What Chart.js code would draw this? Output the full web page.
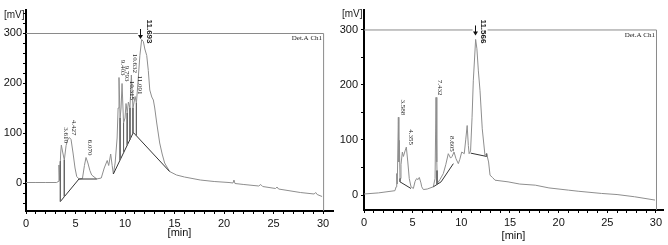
<!DOCTYPE html>
<html>
<head>
<meta charset="utf-8">
<script src="https://cdn.jsdelivr.net/npm/chart.js@4.4.0/dist/chart.umd.min.js"></script>
<style>
  html, body { margin: 0; padding: 0; background: #fff; }
  #wrap { position: relative; width: 668px; height: 245px; }
  canvas { position: absolute; top: 0; }
</style>
</head>
<body>
<div id="wrap">
  <canvas id="left" width="334" height="245" style="left:0"></canvas>
  <canvas id="right" width="333" height="245" style="left:335px"></canvas>
</div>
<script>
// left chromatogram (time in min, signal in mV)
const leftTime = [0, 1, 2, 3.1, 3.25, 3.33, 3.4, 3.5, 3.57, 3.7, 3.87, 4.05, 4.2, 4.38, 4.55, 4.75, 4.95, 5.12, 5.36, 5.7,
  5.9, 6.06, 6.25, 6.45, 6.63, 7.14, 7.6, 7.9, 8.2, 8.35, 8.55, 8.7, 8.82, 9.0, 9.2, 9.3, 9.39, 9.5, 9.6, 9.7,
  9.85, 10.0, 10.1, 10.22, 10.34, 10.5, 10.64, 10.8, 11.02, 11.15, 11.3, 11.5, 11.68, 11.85, 12.0, 12.19, 12.35, 12.5, 12.7, 12.86,
  13.0, 13.2, 13.5, 13.75, 14.0, 14.5, 15.2, 16, 17.6, 19, 20.5, 20.9, 21.0, 21.1, 22, 23.5, 23.7, 23.9, 25.2, 25.35,
  25.5, 27.7, 29.1, 29.25, 29.4, 29.9];
const leftSignal = [1, 1, 1, 1, 3, 36, 5, 60, 76, 62, 46, 75, 86, 91, 87, 60, 30, 13, 8, 9,
  35, 51, 40, 25, 16, 8, 10, 30, 45, 35, 58, 35, 18, 40, 90, 150, 211, 130, 150, 199,
  120, 130, 159, 140, 162, 150, 216, 150, 173, 160, 200, 255, 287, 283, 268, 255, 225, 186, 172, 166,
  150, 120, 80, 58, 40, 23, 16, 12, 6, 3, 1, 0, 6, -1, -3, -6, -3, -7, -11, -8,
  -12, -19, -22, -19, -23, -27];
const leftBaseTime = [[3.47, 5.35, 7.14], [8.82, 10.84, 14.5]];
const leftBaseSignal = [[-37, 8, 8], [18, 101, 23]];
const leftDropTime = [3.47, 3.87, 9.5, 9.85, 10.22, 10.5, 10.8, 11.15];
const leftPeaks = ["3.610", "4.427", "6.070", "9.403", "9.793", "10.315", "10.632", "11.091", "11.693"];

// right chromatogram
const rightTime = [0, 1.5, 3.18, 3.3, 3.36, 3.42, 3.53, 3.58, 3.63, 3.7, 3.8, 3.94, 4.05, 4.22, 4.35, 4.5, 4.65, 4.83, 5.07, 5.25,
  5.41, 5.55, 5.68, 5.85, 5.93, 6.1, 6.5, 7.12, 7.3, 7.4, 7.48, 7.53, 7.8, 8.15, 8.4, 8.66, 8.9, 9.05, 9.25, 9.45,
  9.69, 9.85, 10.04, 10.3, 10.45, 10.6, 10.72, 10.8, 10.95, 11.1, 11.23, 11.47, 11.6, 11.75, 11.92, 12.15, 12.43, 12.6, 12.8, 12.95,
  13.2, 13.46, 14.8, 16, 17.6, 19, 21, 22, 24.4, 26, 27.8, 29.9];
const rightSignal = [2, 4, 8, 15, 39, 20, 141, 60, 99, 30, 55, 78, 70, 80, 87, 60, 30, 15, 12, 25,
  30, 28, 32, 22, 15, 10, 11, 15, 30, 177, 60, 21, 28, 39, 55, 75, 67, 70, 78, 66,
  57, 65, 78, 75, 100, 126, 90, 75, 80, 140, 207, 282, 265, 225, 189, 120, 72, 75, 60, 36,
  32, 27, 24, 20, 18, 13, 9, 7, 3, 1, -3, -9];
const rightBaseTime = [[3.7, 4.83], [7.12, 7.92, 9.18], [10.96, 12.6]];
const rightBaseSignal = [[24, 12], [15, 24, 57], [76, 70]];
const rightDropTime = [3.7, 7.5, 12.6];
const rightPeaks = ["3.588", "4.355", "7.432", "8.605", "11.566"];

// axis ticks
const xLabels = [0, 5, 10, 15, 20, 25, 30];
const yLabels = [0, 100, 200, 300];

const SANS = "'Liberation Sans', Arial, sans-serif";
const SERIF = "'Liberation Serif', 'Times New Roman', serif";

function interp(time, signal, t) {
  for (let i = 1; i < time.length; i++) {
    if (t <= time[i]) {
      const f = (t - time[i - 1]) / (time[i] - time[i - 1]);
      return signal[i - 1] + f * (signal[i] - signal[i - 1]);
    }
  }
  return signal[signal.length - 1];
}

function baseAt(baseTime, baseSignal, t) {
  for (let s = 0; s < baseTime.length; s++) {
    const bt = baseTime[s];
    if (t >= bt[0] && t <= bt[bt.length - 1]) return interp(bt, baseSignal[s], t);
  }
  return null;
}

// frame, texts, peak labels
const decor = {
  id: 'decor',
  afterDraw(chart, args, o) {
    const { ctx, chartArea } = chart;
    const x = chart.scales.x, y = chart.scales.y;
    const top = y.getPixelForValue(300);
    const right = x.getPixelForValue(30);
    const mainRt = parseFloat(o.peaks[o.peaks.length - 1]);
    const mx = x.getPixelForValue(mainRt);
    ctx.save();

    ctx.strokeStyle = '#8a8a8a';
    ctx.lineWidth = 1;
    ctx.beginPath();
    ctx.moveTo(chartArea.left, top + 0.5);
    ctx.lineTo(mx - 4, top + 0.5);
    ctx.moveTo(mx + 11, top + 0.5);
    ctx.lineTo(right + 0.5, top + 0.5);
    ctx.lineTo(right + 0.5, chartArea.bottom);
    ctx.stroke();

    ctx.fillStyle = '#222';
    ctx.font = '7px ' + SERIF;
    ctx.textAlign = 'right';
    ctx.textBaseline = 'top';
    ctx.fillText('Det.A Ch1', right - 1, top + 2);

    ctx.font = '10px ' + SANS;
    ctx.textAlign = 'left';
    ctx.textBaseline = 'middle';
    ctx.fillText('[mV]', chartArea.left - 22, chartArea.top + 5);

    // down arrow at main peak
    const ax = Math.round(mx - 2) + 0.5;
    ctx.strokeStyle = '#111';
    ctx.beginPath();
    ctx.moveTo(ax, top - 4);
    ctx.lineTo(ax, top + 3);
    ctx.stroke();
    ctx.fillStyle = '#111';
    ctx.beginPath();
    ctx.moveTo(ax - 2.5, top + 2);
    ctx.lineTo(ax + 2.5, top + 2);
    ctx.lineTo(ax, top + 6);
    ctx.closePath();
    ctx.fill();

    o.peaks.forEach((lab, i) => {
      const rt = parseFloat(lab);
      let apex = -Infinity;
      o.time.forEach((t, k) => {
        if (Math.abs(t - rt) <= 0.15) apex = Math.max(apex, o.signal[k]);
      });
      const main = i === o.peaks.length - 1;
      const px = x.getPixelForValue(rt) + (main ? 7 : 4);
      const py = y.getPixelForValue(apex) + (main ? 4 : -2);
      ctx.save();
      ctx.translate(px, py);
      ctx.rotate(Math.PI / 2);
      ctx.fillStyle = '#222';
      ctx.font = main ? 'bold 8px ' + SANS : '7px ' + SERIF;
      ctx.textAlign = 'right';
      ctx.textBaseline = 'middle';
      ctx.fillText(lab, 0, 0);
      ctx.restore();
    });
    ctx.restore();
  }
};

function drawPanel(id, p) {
  const trace = p.time.map((t, i) => ({ x: t, y: p.signal[i] }));
  const base = [];
  p.baseTime.forEach((seg, s) => {
    seg.forEach((t, i) => base.push({ x: t, y: p.baseSignal[s][i] }));
    base.push({ x: seg[seg.length - 1], y: null });
  });
  const drops = [];
  p.dropTime.forEach(t => {
    drops.push({ x: t, y: interp(p.time, p.signal, t) });
    drops.push({ x: t, y: baseAt(p.baseTime, p.baseSignal, t) });
    drops.push({ x: t, y: null });
  });

  const xTicks = [];
  for (let v = 0; v <= 30; v++) xTicks.push({ value: v });
  const yTicks = [];
  for (let v = p.yStep * Math.ceil(p.yMin / p.yStep); v <= p.yMax; v += p.yStep) yTicks.push({ value: v });

  new Chart(document.getElementById(id), {
    type: 'scatter',
    data: {
      datasets: [
        { data: drops, showLine: true, borderColor: '#666', borderWidth: 1, pointRadius: 0, spanGaps: false },
        { data: base, showLine: true, borderColor: '#333', borderWidth: 1, pointRadius: 0, spanGaps: false },
        { data: trace, showLine: true, borderColor: '#8e8e8e', borderWidth: 1, pointRadius: 0 }
      ]
    },
    options: {
      responsive: false,
      animation: false,
      layout: { padding: p.pad },
      plugins: {
        legend: { display: false },
        tooltip: { enabled: false },
        decor: { peaks: p.peaks, time: p.time, signal: p.signal }
      },
      scales: {
        x: {
          type: 'linear',
          min: 0,
          max: p.xMax,
          afterBuildTicks: s => { s.ticks = xTicks; },
          afterFit: s => { s.height = p.xHeight; },
          ticks: {
            autoSkip: false, maxRotation: 0, minRotation: 0, padding: 3, color: '#111',
            font: { family: SANS, size: 11 },
            callback: v => xLabels.includes(v) ? String(v) : ''
          },
          grid: { drawOnChartArea: false, drawTicks: true, tickLength: 3, tickColor: '#000' },
          border: { display: true, color: '#000', width: 2 },
          title: {
            display: true, text: '[min]', color: '#111',
            font: { family: SANS, size: 11 },
            padding: { top: 0, bottom: p.titlePad }
          }
        },
        y: {
          type: 'linear',
          min: p.yMin,
          max: p.yMax,
          afterBuildTicks: s => { s.ticks = yTicks; },
          afterFit: s => { s.width = p.yWidth; },
          ticks: {
            autoSkip: false, padding: p.yPad, color: '#111',
            font: { family: SANS, size: 11 },
            callback: v => yLabels.includes(v) ? String(v) : ''
          },
          grid: { drawOnChartArea: false, drawTicks: true, tickLength: 3, tickColor: '#000' },
          border: { display: true, color: '#000', width: 2 }
        }
      }
    },
    plugins: [decor]
  });
}

drawPanel('left', {
  time: leftTime, signal: leftSignal,
  baseTime: leftBaseTime, baseSignal: leftBaseSignal, dropTime: leftDropTime, peaks: leftPeaks,
  xMax: 31, yMin: -56, yMax: 346, yStep: 20,
  pad: { top: 10, right: 1, left: 0, bottom: 0 },
  xHeight: 34, yWidth: 26, yPad: 1, titlePad: 5
});

drawPanel('right', {
  time: rightTime, signal: rightSignal,
  baseTime: rightBaseTime, baseSignal: rightBaseSignal, dropTime: rightDropTime, peaks: rightPeaks,
  xMax: 30.72, yMin: -27, yMax: 336, yStep: 50,
  pad: { top: 8, right: 5, left: 0, bottom: 0 },
  xHeight: 35, yWidth: 29, yPad: 3, titlePad: 2
});
</script>
</body>
</html>
